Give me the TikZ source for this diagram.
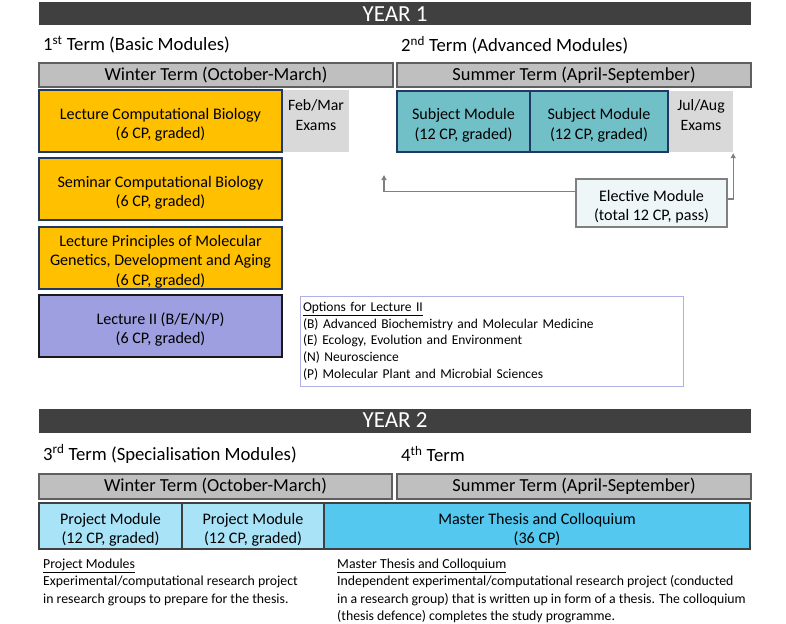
\documentclass[tikz,border=0pt]{standalone}
\usepackage{fontspec}
\setmainfont{Carlito}
\usetikzlibrary{arrows.meta}
\newcommand\mstrut{\rule{0pt}{18.5pt}}
\definecolor{hdr}{HTML}{404040}
\definecolor{termfill}{HTML}{BFBFBF}
\definecolor{termline}{HTML}{5F5F5F}
\definecolor{orangefill}{HTML}{FFC000}
\definecolor{navy}{HTML}{1F3864}
\definecolor{examfill}{HTML}{D9D9D9}
\definecolor{tealfill}{HTML}{72C0C7}
\definecolor{lavfill}{HTML}{9E9FE0}
\definecolor{elecfill}{HTML}{EEF6F8}
\definecolor{arrgray}{HTML}{808080}
\definecolor{optline}{HTML}{B0B0E4}
\definecolor{projfill}{HTML}{A9E3F7}
\definecolor{thesisfill}{HTML}{55C8F0}
\definecolor{darkline}{HTML}{404040}
\begin{document}
\begin{tikzpicture}[x=1pt,y=-1pt,
  hdrbar/.style={fill=hdr,text=white,draw=none,inner sep=0,minimum width=712,font=\fontsize{23}{26}\selectfont},
  termhead/.style={anchor=west,inner sep=0,font=\fontsize{18.7}{22}\selectfont},
  termbar/.style={fill=termfill,draw=termline,line width=1.2pt,inner sep=0,font=\fontsize{18.4}{22}\selectfont},
  modbox/.style={draw=navy,line width=1.3pt,inner sep=0,align=center,font=\fontsize{16.1}{19.7}\selectfont},
  exambox/.style={fill=examfill,draw=none,inner sep=0},
  examtext/.style={inner sep=0,align=center,font=\fontsize{15.8}{19.5}\selectfont},
  arr/.style={draw=arrgray,line width=1.3pt,-{Triangle[width=5pt,length=5pt]}},
  smalltext/.style={inner sep=0,align=left,font=\fontsize{13.8}{17.2}\selectfont}
]
\useasboundingbox[fill=white] (0,0) rectangle (786,623);

% ---------- YEAR 1 ----------
\node[hdrbar,minimum height=23] (y1) at (395,14) {YEAR 1};
\node[termhead] (t1) at (43,45) {1\textsuperscript{st} Term (Basic Modules)};
\node[termhead] (t2) at (401,45) {2\textsuperscript{nd} Term (Advanced Modules)};
\node[termbar,minimum width=354,minimum height=24] (w1) at (216,75) {Winter Term (October-March)};
\node[termbar,minimum width=354,minimum height=24] (s1) at (574,75) {Summer Term (April-September)};

\node[modbox,fill=orangefill,minimum width=243,minimum height=62] (lcb) at (160.5,121) {\mstrut Lecture Computational Biology\\(6 CP, graded)};
\node[exambox,minimum width=66,minimum height=62] (fm) at (316,121) {};
\node[examtext,anchor=north] (fmt) at ([yshift=-10pt]fm.north) {Feb/Mar\\Exams};
\node[modbox,fill=orangefill,minimum width=243,minimum height=62] (scb) at (160.5,189) {\mstrut Seminar Computational Biology\\(6 CP, graded)};
\node[modbox,fill=orangefill,minimum width=243,minimum height=62] (lpm) at (160.5,258) {\mstrut Lecture Principles of Molecular\\Genetics, Development and Aging\\(6 CP, graded)};
\node[modbox,draw=black!90,fill=lavfill,minimum width=243,minimum height=62] (l2) at (160.5,326) {\mstrut Lecture II (B/E/N/P)\\(6 CP, graded)};

\node[modbox,fill=tealfill,minimum width=133,minimum height=61] (sm1) at (463.5,121.5) {\mstrut Subject Module\\(12 CP, graded)};
\node[modbox,fill=tealfill,minimum width=138,minimum height=61] (sm2) at (599,121.5) {\mstrut Subject Module\\(12 CP, graded)};
\node[exambox,minimum width=64,minimum height=61] (ja) at (701,121.5) {};
\node[examtext,anchor=north] (jat) at ([yshift=-9pt]ja.north) {Jul/Aug\\Exams};

\node[modbox,draw=arrgray,line width=1.2pt,fill=elecfill,minimum width=151,minimum height=48] (elec) at (651.5,203) {\mstrut Elective Module\\(total 12 CP, pass)};
\coordinate (la) at (384,175);
\draw[arr] ([yshift=11.3pt]elec.west) -| (la);
\draw[arr] ([yshift=4pt]elec.east) -| ([yshift=-1pt]ja.south east);

\node[draw=optline,line width=1pt,fill=white,minimum width=383,minimum height=90,text width=377,inner xsep=3pt,inner ysep=0,align=left,font=\fontsize{13.5}{16.7}\selectfont] (opt) at (491.5,341) {\underline{Options for Lecture II}\\(B) Advanced Biochemistry and Molecular Medicine\\(E) Ecology, Evolution and Environment\\(N) Neuroscience\\(P) Molecular Plant and Microbial Sciences};

% ---------- YEAR 2 ----------
\node[hdrbar,minimum height=24] (y2) at (395,420.5) {YEAR 2};
\node[termhead] (t3) at (43,454) {3\textsuperscript{rd} Term (Specialisation Modules)};
\node[termhead] (t4) at (401,454) {4\textsuperscript{th} Term};
\node[termbar,minimum width=353,minimum height=25] (w2) at (215.5,486.5) {Winter Term (October-March)};
\node[termbar,minimum width=354,minimum height=25] (s2) at (574,486.5) {Summer Term (April-September)};

\node[modbox,draw=darkline,fill=projfill,minimum width=143,minimum height=46] (pm1) at (110.5,526) {\mstrut Project Module\\(12 CP, graded)};
\node[modbox,draw=darkline,fill=projfill,minimum width=142,minimum height=46] (pm2) at (253,526) {\mstrut Project Module\\(12 CP, graded)};
\node[modbox,draw=darkline,fill=thesisfill,minimum width=426,minimum height=46] (mt) at (537,526) {\mstrut Master Thesis and Colloquium\\(36 CP)};

\node[smalltext,anchor=north west] (pmtext) at (43,559) {\underline{Project Modules}\\Experimental/computational research project\\in research groups to prepare for the thesis.};
\node[smalltext,anchor=north west] (mttext) at (337,559) {\underline{Master Thesis and Colloquium}\\Independent experimental/computational research project (conducted\\in a research group) that is written up in form of a thesis. The colloquium\\(thesis defence) completes the study programme.};
\end{tikzpicture}
\end{document}
